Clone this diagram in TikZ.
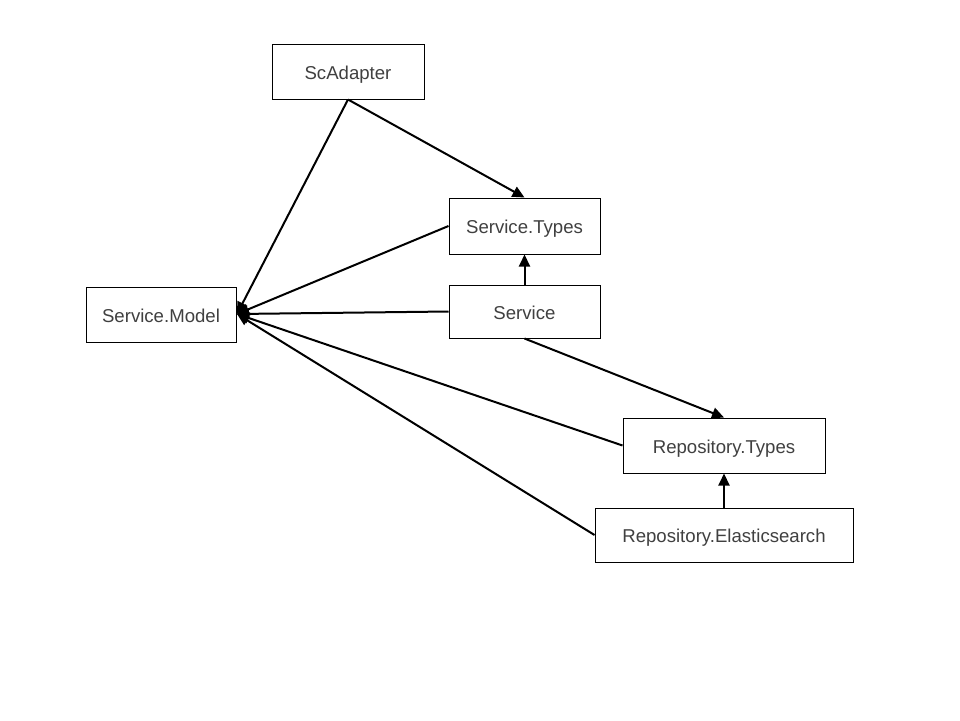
\documentclass[tikz,border=0pt]{standalone}
\usepackage{fontspec}
\setmainfont{Liberation Sans}
\usetikzlibrary{arrows.meta}
\definecolor{txt}{HTML}{404040}
\begin{document}
\begin{tikzpicture}[x=1pt,y=-1pt,
  box/.style={draw=black,line width=1pt,fill=white,rectangle,inner sep=0pt,
    text=txt,font=\fontsize{18.6}{22}\selectfont,text depth=0pt,text height=15pt},
  arr/.style={draw=black,line width=2pt,-{Triangle[length=12pt,width=11pt]}}]
\useasboundingbox (0,0) rectangle (960,720);
\node[box,minimum width=152pt,minimum height=55pt] (sca) at (348,71.5) {ScAdapter};
\node[box,minimum width=151pt,minimum height=56pt] (st) at (524.5,226) {Service.Types};
\node[box,minimum width=150pt,minimum height=55pt] (sm) at (161,314.5) {Service.Model};
\node[box,minimum width=151pt,minimum height=53pt] (sv) at (524.5,311.5) {Service};
\node[box,minimum width=202pt,minimum height=55pt] (rt) at (724,445.5) {Repository.Types};
\node[box,minimum width=258pt,minimum height=54pt] (re) at (724,535) {Repository.Elasticsearch};
\coordinate (tip) at (237,314);
\draw[arr] (sca.south) -- (tip);
\draw[arr] (sca.south) -- (st.north);
\draw[arr] (st.west) -- (tip);
\draw[arr] (sv.north) -- (st.south);
\draw[arr] (sv.west) -- (tip);
\draw[arr] (sv.south) -- (rt.north);
\draw[arr] (rt.west) -- (tip);
\draw[arr] (re.west) -- (tip);
\draw[arr] (re.north) -- (rt.south);
\end{tikzpicture}
\end{document}
